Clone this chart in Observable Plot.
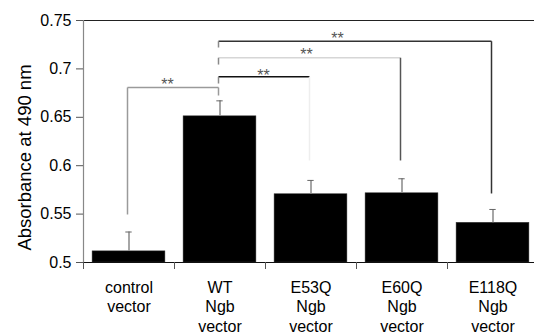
<!DOCTYPE html>
<html>
<head>
<meta charset="utf-8">
<script src="https://cdn.jsdelivr.net/npm/d3@7"></script>
<script src="https://cdn.jsdelivr.net/npm/@observablehq/plot@0.6"></script>
<style>
  html, body { margin: 0; padding: 0; background: #fff; }
  #chart { width: 534px; height: 334px; overflow: hidden; }
</style>
</head>
<body>
<div id="chart"></div>
<script>
// Categories (x), bar means, upper error-bar ends, y ticks
const categories = ["control\nvector", "WT\nNgb\nvector", "E53Q\nNgb\nvector", "E60Q\nNgb\nvector", "E118Q\nNgb\nvector"];
const means = [0.5115, 0.651, 0.5705, 0.5715, 0.541];
const upper = [0.5315, 0.667, 0.5848, 0.5865, 0.5548];
const yTicks = [0.5, 0.55, 0.6, 0.65, 0.7, 0.75];
const yLabel = "Absorbance at 490 nm";

// Significance brackets: from group A to group B
const bracketA = [0, 1, 1, 1];
const bracketB = [1, 2, 3, 4];
const bracketTop = [0.6808, 0.6918, 0.7115, 0.7286];
const bracketEndA = [0.5496, 0.6849, 0.7045, 0.7221];
const bracketEndB = [0.6725, 0.6054, 0.6054, 0.5713];
const bracketText = ["**", "**", "**", "**"];
const starX = [0.423, 1.478, 1.951, 2.291];
const starY = [0.687, 0.6963, 0.718, 0.7345];

// colours for bracket parts
const barColor = "#000";
const topColor = ["#9a9a9a", "#111", "#d6d6d6", "#333"];
const legAColor = ["#9a9a9a", "#8a8a8a", "#8a8a8a", "#8a8a8a"];
const legBColor = ["#9a9a9a", "#eeeeee", "#555", "#333"];

const bars = categories.map((c, i) => ({i, c, mean: means[i], up: upper[i]}));
const segs = [];
bracketA.forEach((a, k) => {
  const b = bracketB[k];
  segs.push({x1: a, x2: b, y1: bracketTop[k], y2: bracketTop[k], color: topColor[k]});
  segs.push({x1: a, x2: a, y1: bracketTop[k], y2: bracketEndA[k], color: legAColor[k]});
  segs.push({x1: b, x2: b, y1: bracketTop[k], y2: bracketEndB[k], color: legBColor[k]});
});
const stars = bracketText.map((t, k) => ({t, x: starX[k], y: starY[k]}));

const chart = Plot.plot({
  width: 534,
  height: 334,
  marginLeft: 83,
  marginRight: 0,
  marginTop: 20,
  marginBottom: 72,
  style: {fontFamily: "'Liberation Sans', Arial, sans-serif", fontSize: "16px", color: "#000", background: "#fff", overflow: "hidden"},
  x: {domain: [-0.5, categories.length - 0.5], range: [83, 538]},
  y: {domain: [yTicks[0], yTicks[yTicks.length - 1]], range: [262, 20]},
  marks: [
    Plot.rectY(bars, {x1: d => d.i - 0.4, x2: d => d.i + 0.4, y1: yTicks[0], y2: "mean", fill: barColor, stroke: "#333", strokeWidth: 0.5}),
    Plot.ruleX(bars, {x: "i", y1: "mean", y2: "up", stroke: "#888", strokeWidth: 1.5}),
    Plot.ruleY(bars, {y: "up", x1: d => d.i - 0.035, x2: d => d.i + 0.035, stroke: "#666", strokeWidth: 1}),
    Plot.link(segs, {x1: "x1", x2: "x2", y1: "y1", y2: "y2", stroke: "color", strokeWidth: 1.5, dx: -1.5}),
    Plot.text(stars, {x: "x", y: "y", text: "t", fontSize: 16, fill: "#555", dy: 3}),
    Plot.ruleY([yTicks[yTicks.length - 1]], {stroke: "#222", strokeWidth: 1.2}),
    Plot.ruleY([yTicks[0]], {stroke: "#111", strokeWidth: 1.2}),
    Plot.ruleX([-0.5], {stroke: "#888", strokeWidth: 1.2}),
    Plot.axisY({ticks: yTicks, tickSize: 7, tickPadding: 5, tickFormat: d => String(+d.toFixed(2)), label: null, fontSize: 16, stroke: "#555"}),
    Plot.axisX({ticks: categories.map((_, i) => i - 0.5), tickSize: 7, tickFormat: () => "", label: null, stroke: "#555"}),
    Plot.axisX({ticks: categories.map((_, i) => i), tickSize: 0, tickPadding: 17, tickFormat: i => categories[i], label: null, fontSize: 16, lineHeight: 1.2}),
    Plot.text([yLabel], {frameAnchor: "left", rotate: -90, textAnchor: "middle", dx: -58, dy: 16, fontSize: 18.5, fill: "#000"})
  ]
});
document.getElementById("chart").appendChild(chart);
</script>
</body>
</html>
